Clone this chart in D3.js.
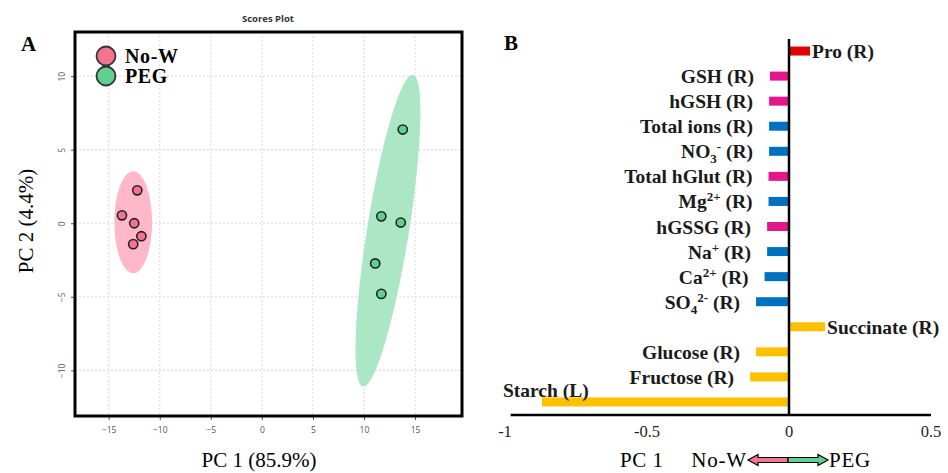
<!DOCTYPE html>
<html>
<head>
<meta charset="utf-8">
<script src="https://cdn.jsdelivr.net/npm/d3@7"></script>
<style>
  body { margin: 0; background: #fff; }
  svg { display: block; }
</style>
</head>
<body>
<div id="chart"></div>
<script>
// PCA scores plot (A) and PC1 loadings (B)

// ---- data ----
// panel A: scores
const groups = ["No-W", "PEG"];
const noW_pc1 = [-12.2, -13.7, -12.5, -11.8, -12.6];
const noW_pc2 = [2.24, 0.54, 0.0, -0.88, -1.42];
const peg_pc1 = [13.8, 11.7, 13.6, 11.1, 11.7];
const peg_pc2 = [6.37, 0.47, 0.05, -2.73, -4.8];
// confidence ellipses: centre, half major axis vector, half minor width (pc1 units)
const ellipseCentre = [[-12.6, 0.07], [12.35, -0.5]];
const ellipseMajor = [[0, 3.46], [2.45, 10.6]];
const ellipseMinor = [1.85, 2.05];
const xTicksA = [-15, -10, -5, 0, 5, 10, 15];
const yTicksA = [-10, -5, 0, 5, 10];

// panel B: loadings on PC 1
const variables = ["Pro (R)", "GSH (R)", "hGSH (R)", "Total ions (R)", "NO_{3}^{-} (R)",
  "Total hGlut (R)", "Mg^{2+} (R)", "hGSSG (R)", "Na^{+} (R)", "Ca^{2+} (R)",
  "SO_{4}^{2-} (R)", "Succinate (R)", "Glucose (R)", "Fructose (R)", "Starch (L)"];
const loadings = [0.074, -0.067, -0.07, -0.07, -0.07, -0.072, -0.072, -0.077, -0.077,
  -0.086, -0.116, 0.127, -0.116, -0.137, -0.87];
const varClass = ["aa", "glut", "glut", "ion", "ion", "glut", "ion", "glut", "ion",
  "ion", "ion", "sugar", "sugar", "sugar", "sugar"];
const xTicksB = [-1, -0.5, 0, 0.5];

const groupFill = {"No-W": "#f5738f", "PEG": "#5fd08e"};
const ellipseFill = {"No-W": "#ffb3c6", "PEG": "#a6e6c2"};
const classColor = {aa: "#e00000", glut: "#e5168c", ion: "#0070c0", sugar: "#ffc000"};

const serif = "'Liberation Serif', 'DejaVu Serif', serif";
const sans = "'Open Sans', 'DejaVu Sans', sans-serif";

const svg = d3.select("#chart").append("svg")
  .attr("width", 948).attr("height", 473);

// ================= panel A =================
const xA = d3.scaleLinear().domain([-18.3, 19.6]).range([75, 462]);
const yA = d3.scaleLinear().domain([-13.1, 13]).range([416, 32]);

svg.append("text").attr("x", 268).attr("y", 22).attr("text-anchor", "middle")
  .style("font-family", sans).style("font-weight", "bold").style("font-size", "9.5px")
  .attr("fill", "#333").text("Scores Plot");

svg.append("text").attr("x", 21).attr("y", 51)
  .style("font-family", serif).style("font-weight", "bold").style("font-size", "21px")
  .text("A");

// grid
const gA = svg.append("g");
gA.selectAll(".vg").data(xTicksA).enter().append("line")
  .attr("x1", d => xA(d)).attr("x2", d => xA(d))
  .attr("y1", yA.range()[1]).attr("y2", yA.range()[0])
  .attr("stroke", "#d9d9d9").attr("stroke-dasharray", "2,2");
gA.selectAll(".hg").data(yTicksA).enter().append("line")
  .attr("y1", d => yA(d)).attr("y2", d => yA(d))
  .attr("x1", xA.range()[0]).attr("x2", xA.range()[1])
  .attr("stroke", "#d9d9d9").attr("stroke-dasharray", "2,2");

// ellipses
groups.forEach((g, i) => {
  const [cx, cy] = ellipseCentre[i];
  const [mx, my] = ellipseMajor[i];
  const px = xA(cx), py = yA(cy);
  const ex = xA(cx + mx) - px, ey = yA(cy + my) - py;
  const ry = Math.sqrt(ex * ex + ey * ey);
  const rx = xA(ellipseMinor[i]) - xA(0);
  const ang = Math.atan2(ex, -ey) * 180 / Math.PI;
  gA.append("ellipse")
    .attr("cx", px).attr("cy", py).attr("rx", rx).attr("ry", ry)
    .attr("transform", `rotate(${ang},${px},${py})`)
    .attr("fill", ellipseFill[g]).attr("opacity", 0.95);
});

// points
const pts = [
  ...noW_pc1.map((v, i) => ({g: "No-W", x: v, y: noW_pc2[i]})),
  ...peg_pc1.map((v, i) => ({g: "PEG", x: v, y: peg_pc2[i]}))
];
gA.selectAll(".pt").data(pts).enter().append("circle")
  .attr("cx", d => xA(d.x)).attr("cy", d => yA(d.y)).attr("r", 4.6)
  .attr("fill", d => groupFill[d.g]).attr("stroke", "#222").attr("stroke-width", 1.6);

// axes
const axA = svg.append("g").attr("transform", `translate(0,${yA.range()[0]})`)
  .call(d3.axisBottom(xA).tickValues(xTicksA).tickSize(4).tickSizeOuter(0).tickPadding(7));
const ayA = svg.append("g").attr("transform", `translate(${xA.range()[0]},0)`)
  .call(d3.axisLeft(yA).tickValues(yTicksA).tickSize(4).tickSizeOuter(0).tickPadding(4));
[axA, ayA].forEach(a => {
  a.select(".domain").remove();
  a.selectAll(".tick line").attr("stroke", "#555");
  a.selectAll("text").style("font-family", sans).style("font-size", "8.5px").attr("fill", "#555");
});
ayA.selectAll(".tick text").attr("transform", "rotate(-90)")
  .attr("x", 0).attr("y", -10).attr("dy", 0).attr("text-anchor", "middle");

// frame
svg.append("rect").attr("x", xA.range()[0]).attr("y", yA.range()[1])
  .attr("width", xA.range()[1] - xA.range()[0]).attr("height", yA.range()[0] - yA.range()[1])
  .attr("fill", "none").attr("stroke", "#000").attr("stroke-width", 3);

// legend
groups.forEach((g, i) => {
  svg.append("circle").attr("cx", 106).attr("cy", 56 + i * 20).attr("r", 9.5)
    .attr("fill", groupFill[g]).attr("stroke", "#333").attr("stroke-width", 1.8);
  svg.append("text").attr("x", 125).attr("y", 63 + i * 20)
    .style("font-family", serif).style("font-weight", "bold").style("font-size", "20px")
    .style("letter-spacing", "0.6px")
    .text(g);
});

// axis titles
svg.append("text").attr("x", 259).attr("y", 467).attr("text-anchor", "middle")
  .style("font-family", serif).style("font-size", "21px").text("PC 1 (85.9%)");
svg.append("text").attr("transform", "translate(33,221) rotate(-90)").attr("text-anchor", "middle")
  .style("font-family", serif).style("font-size", "21px").text("PC 2 (4.4%)");

// ================= panel B =================
const xB = d3.scaleLinear().domain([-1, 0.5]).range([505, 931]);
const yB = d3.scalePoint().domain(variables).range([38.5, 414.5]).padding(0.5);
const barH = 9;
const baseY = 415;

svg.append("text").attr("x", 504).attr("y", 50)
  .style("font-family", serif).style("font-weight", "bold").style("font-size", "21px")
  .text("B");

const gB = svg.append("g");
gB.selectAll(".bar").data(variables).enter().append("rect")
  .attr("x", (d, i) => Math.min(xB(0), xB(loadings[i])))
  .attr("width", (d, i) => Math.abs(xB(loadings[i]) - xB(0)))
  .attr("y", d => yB(d) - barH / 2).attr("height", barH)
  .attr("fill", (d, i) => classColor[varClass[i]]);

// labels with sub/superscripts
function richText(sel, str) {
  const parts = str.split(/(_\{[^}]*\}|\^\{[^}]*\})/).filter(s => s.length);
  let shift = 0;
  parts.forEach(p => {
    let txt = p, target = 0, size = null;
    if (p.startsWith("_{")) { txt = p.slice(2, -1); target = 5; size = "13px"; }
    else if (p.startsWith("^{")) { txt = p.slice(2, -1); target = -7; size = "13px"; }
    const t = sel.append("tspan").attr("dy", target - shift).text(txt);
    if (size) t.style("font-size", size);
    shift = target;
  });
}

variables.forEach((v, i) => {
  const val = loadings[i];
  const cy = yB(v);
  const t = gB.append("text")
    .style("font-family", serif).style("font-weight", "bold").style("font-size", "19.5px")
    .attr("fill", "#1a1a1a");
  if (v.startsWith("Starch")) {
    t.attr("x", xB(val) - 39).attr("y", cy - 5).attr("text-anchor", "start");
  } else if (val > 0) {
    t.attr("x", xB(val) + 2).attr("y", cy + 7).attr("text-anchor", "start");
  } else {
    t.attr("x", xB(val) - 16).attr("y", cy + 7).attr("text-anchor", "end");
  }
  richText(t, v);
});

// zero line and bottom axis
gB.append("line").attr("x1", xB(0)).attr("x2", xB(0)).attr("y1", 39).attr("y2", baseY)
  .attr("stroke", "#000").attr("stroke-width", 2.5);
gB.append("line").attr("x1", xB(-0.98)).attr("x2", xB(0.5)).attr("y1", baseY).attr("y2", baseY)
  .attr("stroke", "#000").attr("stroke-width", 2.5);
gB.selectAll(".tb").data(xTicksB).enter().append("text")
  .attr("x", d => xB(d)).attr("y", 437).attr("text-anchor", "middle")
  .style("font-family", serif).style("font-size", "16.5px").attr("fill", "#222")
  .text(d => d);

// bottom legend: PC 1  No-W <==> PEG
const legY = 467;
svg.append("text").attr("x", 620).attr("y", legY)
  .style("font-family", serif).style("font-size", "21px").style("letter-spacing", "0.5px").text("PC 1");
svg.append("text").attr("x", 747).attr("y", legY).attr("text-anchor", "end")
  .style("font-family", serif).style("font-size", "21px").style("letter-spacing", "0.8px").text("No-W");
svg.append("text").attr("x", 829).attr("y", legY)
  .style("font-family", serif).style("font-size", "21px").style("letter-spacing", "0.8px").text("PEG");

const aL = 748, aR = 828, aM = (aL + aR) / 2, aY = 460, sh = 2.5, hh = 5.5, hl = 10;
svg.append("path")
  .attr("d", `M${aM},${aY - sh} L${aL + hl},${aY - sh} L${aL + hl},${aY - hh} L${aL},${aY} L${aL + hl},${aY + hh} L${aL + hl},${aY + sh} L${aM},${aY + sh} Z`)
  .attr("fill", groupFill["No-W"]).attr("stroke", "#000").attr("stroke-width", 1.2);
svg.append("path")
  .attr("d", `M${aM},${aY - sh} L${aR - hl},${aY - sh} L${aR - hl},${aY - hh} L${aR},${aY} L${aR - hl},${aY + hh} L${aR - hl},${aY + sh} L${aM},${aY + sh} Z`)
  .attr("fill", groupFill["PEG"]).attr("stroke", "#000").attr("stroke-width", 1.2);
</script>
</body>
</html>
